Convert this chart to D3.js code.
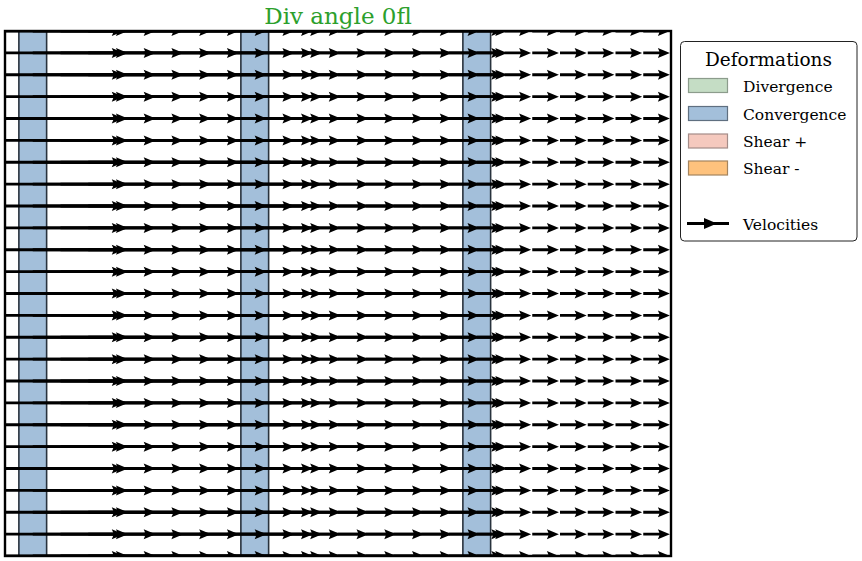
<!DOCTYPE html>
<html><head><meta charset="utf-8">
<script src="https://cdn.jsdelivr.net/npm/d3@7"></script>
<style>body{margin:0;background:#fff;} svg{display:block;}</style>
</head><body>
<script>
// ---- data ----
const xNodes = [0,1,2,3,4,5,6,7,8,9,10,11,12,13,14,15,16,17,18,19,20,21,22,23,24];
const yNodes = [0,1,2,3,4,5,6,7,8,9,10,11,12,13,14,15,16,17,18,19,20,21,22,23,24];
// x-velocity per column (grid units), y-velocity zero
const uCol = [4.28, 3.43,3.43,3.43,3.43,3.43,3.43,3.43,3.43,
              2.10,2.10,2.10,2.10,2.10,2.10,2.10,2.10,
              0.96,0.96,0.96,0.96,0.96,0.96,0.96,0.96];
const vCol = [0,0,0,0,0,0,0,0,0,0,0,0,0,0,0,0,0,0,0,0,0,0,0,0,0];
const convergenceCols = [1, 9, 17];
const titleText = "Div angle 0fl";
const legendTitle = "Deformations";
const legendLabels = ["Divergence", "Convergence", "Shear +", "Shear -"];
const legendColors = ["#c5ddc5", "#a3bfda", "#f5c9be", "#fec27d"];
const legendEdges = ["#8c9c8c", "#5f6f80", "#a48c88", "#a4845e"];
const velocityLabel = "Velocities";

// ---- layout ----
const FONT = "DejaVu Serif";
const W = 862, H = 561;
const L = 5, R = 671, T = 31, B = 556;
const svg = d3.select("body").append("svg").attr("width", W).attr("height", H);
const x = d3.scaleLinear().domain([0, 24]).range([L, R]);
const y = d3.scaleLinear().domain([0, 24]).range([B, T]);
const dx = x(1) - x(0);

svg.append("defs").append("clipPath").attr("id", "clip")
  .append("rect").attr("x", L).attr("y", T).attr("width", R - L).attr("height", B - T);

const g = svg.append("g").attr("clip-path", "url(#clip)");

// convergence bands
g.selectAll("rect.band").data(convergenceCols).join("rect")
  .attr("class", "band")
  .attr("x", d => x(d - 0.5)).attr("y", T)
  .attr("width", dx).attr("height", B - T)
  .attr("fill", legendColors[1]).attr("stroke", "#28323d").attr("stroke-width", 1.6);

// quiver arrows
const sw = 2.8, hw = 10, hl = 12, hal = 10.5;
function arrowPath(len) {
  const a = len - hal, b = len - hl;
  return `M0,${-sw/2}L${a},${-sw/2}L${b},${-hw/2}L${len},0L${b},${hw/2}L${a},${sw/2}L0,${sw/2}Z`;
}
const pts = [];
yNodes.forEach(j => xNodes.forEach(i => pts.push({i, j, u: uCol[i], v: vCol[i]})));
g.selectAll("path.arrow").data(pts).join("path")
  .attr("class", "arrow")
  .attr("transform", d => `translate(${x(d.i)},${y(d.j)})`)
  .attr("d", d => arrowPath(x(d.u) - x(0)))
  .attr("fill", "#000");

// frame
svg.append("rect").attr("x", L).attr("y", T).attr("width", R - L).attr("height", B - T)
  .attr("fill", "none").attr("stroke", "#000").attr("stroke-width", 2.4);

// title
svg.append("text").attr("x", (L + R) / 2).attr("y", 24).attr("text-anchor", "middle")
  .attr("font-family", FONT).attr("font-size", 23)
  .attr("fill", "#2ca02c").text(titleText);

// legend
const lg = svg.append("g");
lg.append("rect").attr("x", 680.5).attr("y", 41.5).attr("width", 176.5).attr("height", 199.5)
  .attr("rx", 4).attr("fill", "#fff").attr("stroke", "#222").attr("stroke-width", 1);
lg.append("text").attr("x", 768.5).attr("y", 65.5).attr("text-anchor", "middle")
  .attr("font-family", FONT).attr("font-size", 18.5).text(legendTitle);
const rowY = [85.5, 113.5, 141, 168];
legendLabels.forEach((lab, k) => {
  lg.append("rect").attr("x", 688.5).attr("y", rowY[k] - 7).attr("width", 39).attr("height", 14)
    .attr("fill", legendColors[k]).attr("stroke", legendEdges[k]).attr("stroke-width", 1.2);
  lg.append("text").attr("x", 743).attr("y", rowY[k] + 6)
    .attr("font-family", FONT).attr("font-size", 15.5).text(lab);
});
const vy = 223.5;
lg.append("line").attr("x1", 687).attr("x2", 729).attr("y1", vy).attr("y2", vy)
  .attr("stroke", "#000").attr("stroke-width", 2.8);
lg.append("path").attr("d", `M704,${vy - 5.5}L717,${vy}L704,${vy + 5.5}Z`).attr("fill", "#000");
lg.append("text").attr("x", 743).attr("y", vy + 6)
  .attr("font-family", FONT).attr("font-size", 15.5).text(velocityLabel);
</script>
</body></html>
